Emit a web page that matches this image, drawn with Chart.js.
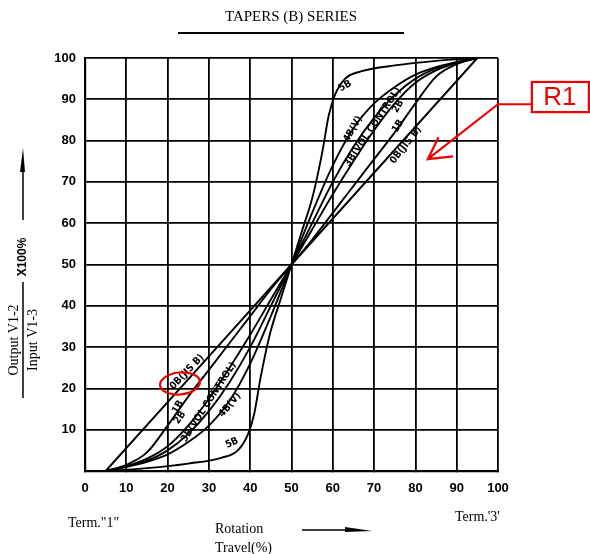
<!DOCTYPE html>
<html>
<head>
<meta charset="utf-8">
<script src="https://cdn.jsdelivr.net/npm/chart.js@4"></script>
<style>
  body { margin: 0; background: #fff; }
  canvas { display: block; }
</style>
</head>
<body>
<canvas id="taper" width="590" height="554"></canvas>
<script>
// rotation travel (%) vs output ratio (%) for each taper
const x0B = [5, 50, 95];
const y0B = [0, 50, 100];

const xTaper = [5, 10, 15, 20, 25, 30, 35, 40, 45, 50, 55, 60, 65, 70, 75, 80, 85, 90, 95];
const y1B = [0, 1.5, 4.5, 11, 18, 24.5, 31, 37.5, 44, 50, 56, 62.5, 69, 75.5, 82, 89, 95.5, 98.5, 100];
const y2B = [0, 1.2, 3, 6, 11, 17.5, 25, 33, 41.5, 50, 58.5, 67, 75, 82.5, 89, 94, 97, 98.8, 100];
const y3B = [0, 1, 2.5, 5, 9, 14.5, 21.5, 30, 40, 50, 60, 70, 78.5, 85.5, 91, 95, 97.5, 99, 100];
const y4B = [0, 1, 2.2, 4, 7, 11, 17, 26, 37.5, 50, 62.5, 74, 83, 89, 93, 96, 97.8, 99, 100];

const x5B = [5, 15, 25, 33, 37, 39.5, 41, 42.4, 43.6, 45, 47.5, 50, 52.5, 55, 56.4, 57.6, 59, 60.5, 63, 67, 75, 85, 95];
const y5B = [0, 0.7, 1.8, 3.2, 5, 9, 14, 22, 28, 34, 42, 50, 58, 66, 72, 78, 86, 91, 95, 96.8, 98.2, 99.3, 100];

const tickValues = [0, 10, 20, 30, 40, 50, 60, 70, 80, 90, 100];

// curve captions: [text, x, y, angle in degrees]
const captions = [
  ['5B', 63, 93.2, -30],
  ['4B(V)', 64.9, 82.8, -60],
  ['3B(VOL CONTROL)', 69.7, 83.3, -56],
  ['2B', 75.8, 88.3, -60],
  ['1B', 75.8, 83.5, -60],
  ['0B(JIS B)', 77.7, 78.9, -52],
  ['0B(JIS B)', 24.7, 24, -46],
  ['1B', 22.5, 15.5, -60],
  ['2B', 23, 12.9, -55],
  ['3B(VOL CONTROL)', 30, 16.7, -57],
  ['4B(V)', 35.1, 16, -50],
  ['5B', 35.6, 6.8, -25]
];

function pts(xs, ys) {
  return xs.map((x, i) => ({x: x, y: ys[i]}));
}

function curve(xs, ys) {
  return {
    data: pts(xs, ys),
    borderColor: '#000',
    borderWidth: 1.9,
    pointRadius: 0,
    fill: false,
    cubicInterpolationMode: 'monotone',
    clip: false
  };
}

const decor = {
  id: 'decor',
  afterDraw(chart) {
    const ctx = chart.ctx;
    const sx = chart.scales.x, sy = chart.scales.y;
    const px = v => sx.getPixelForValue(v);
    const py = v => sy.getPixelForValue(v);
    ctx.save();

    // title
    ctx.fillStyle = '#000';
    ctx.font = '15px "Liberation Serif"';
    ctx.textAlign = 'center';
    ctx.textBaseline = 'middle';
    ctx.fillText('TAPERS (B) SERIES', 291, 17);
    ctx.lineWidth = 2;
    ctx.beginPath();
    ctx.moveTo(178, 33);
    ctx.lineTo(404, 33);
    ctx.stroke();

    // curve captions
    ctx.font = 'bold 10px "DejaVu Sans Condensed"';
    captions.forEach(c => {
      ctx.save();
      ctx.translate(px(c[1]), py(c[2]));
      ctx.rotate(c[3] * Math.PI / 180);
      ctx.fillText(c[0], 0, 0);
      ctx.restore();
    });

    // y axis title
    ctx.save();
    ctx.translate(23, 340);
    ctx.rotate(-Math.PI / 2);
    ctx.font = '14px "Liberation Serif"';
    ctx.fillText('Output V1-2', 0, -9);
    ctx.fillText('Input V1-3', 0, 10);
    ctx.lineWidth = 1.5;
    ctx.beginPath();
    ctx.moveTo(-58, 0);
    ctx.lineTo(58, 0);
    ctx.stroke();
    ctx.font = 'bold 12px "Liberation Sans"';
    ctx.fillText('X100%', 83, 0);
    ctx.beginPath();
    ctx.moveTo(120, 0);
    ctx.lineTo(170, 0);
    ctx.stroke();
    ctx.beginPath();
    ctx.moveTo(192, 0);
    ctx.lineTo(168, -3);
    ctx.lineTo(168, 2);
    ctx.closePath();
    ctx.fill();
    ctx.restore();

    // bottom texts
    ctx.font = '14px "Liberation Serif"';
    ctx.textAlign = 'left';
    ctx.fillText('Term."1"', 68, 523);
    ctx.fillText('Term.\'3\'', 455, 517);
    ctx.fillText('Rotation', 215, 529);
    ctx.fillText('Travel(%)', 215, 548);
    ctx.lineWidth = 1.5;
    ctx.beginPath();
    ctx.moveTo(302, 530);
    ctx.lineTo(350, 530);
    ctx.stroke();
    ctx.beginPath();
    ctx.moveTo(372, 531);
    ctx.lineTo(345, 527);
    ctx.lineTo(345, 532);
    ctx.closePath();
    ctx.fill();

    // red markup
    ctx.strokeStyle = '#e00';
    ctx.fillStyle = '#e00';
    ctx.lineWidth = 2.2;
    ctx.beginPath();
    ctx.ellipse(px(23), py(21.2), 20, 11, -0.1, 0, Math.PI * 2);
    ctx.stroke();

    ctx.strokeRect(px(108.2), py(94.2), 57, py(86.9) - py(94.2));
    ctx.font = '26px "Liberation Sans"';
    ctx.textAlign = 'center';
    ctx.fillText('R1', px(108.2) + 28, py(90.5) + 1);

    const tipX = px(83), tipY = py(75.5);
    ctx.beginPath();
    ctx.moveTo(px(108.2), py(88.8));
    ctx.lineTo(px(100), py(88.8));
    ctx.lineTo(tipX, tipY);
    ctx.moveTo(px(85.6), py(80.8));
    ctx.lineTo(tipX, tipY);
    ctx.lineTo(px(89.1), py(76.2));
    ctx.stroke();

    ctx.restore();
  }
};

new Chart(document.getElementById('taper'), {
  type: 'line',
  data: {
    datasets: [
      curve(x0B, y0B),
      curve(xTaper, y1B),
      curve(xTaper, y2B),
      curve(xTaper, y3B),
      curve(xTaper, y4B),
      curve(x5B, y5B)
    ]
  },
  options: {
    responsive: false,
    animation: false,
    layout: { padding: { left: 0, top: 58, right: 92, bottom: 0 } },
    plugins: {
      legend: { display: false },
      tooltip: { enabled: false }
    },
    scales: {
      x: {
        type: 'linear',
        min: 0,
        max: 100,
        afterFit: s => { s.height = 83; },
        afterBuildTicks: s => { s.ticks = tickValues.map(v => ({value: v})); },
        grid: { color: '#000', lineWidth: 1.8, tickLength: 0 },
        border: { color: '#000', width: 2.2 },
        ticks: {
          color: '#000',
          padding: 10,
          maxRotation: 0,
          font: { family: 'Liberation Sans', weight: 'bold', size: 13 }
        }
      },
      y: {
        min: 0,
        max: 100,
        afterFit: s => { s.width = 85; },
        afterBuildTicks: s => { s.ticks = tickValues.map(v => ({value: v})); },
        grid: { color: '#000', lineWidth: 1.8, tickLength: 0 },
        border: { color: '#000', width: 2.2 },
        ticks: {
          color: '#000',
          padding: 9,
          callback: v => v === 0 ? '' : v,
          font: { family: 'Liberation Sans', weight: 'bold', size: 13 }
        }
      }
    }
  },
  plugins: [decor]
});
</script>
</body>
</html>
